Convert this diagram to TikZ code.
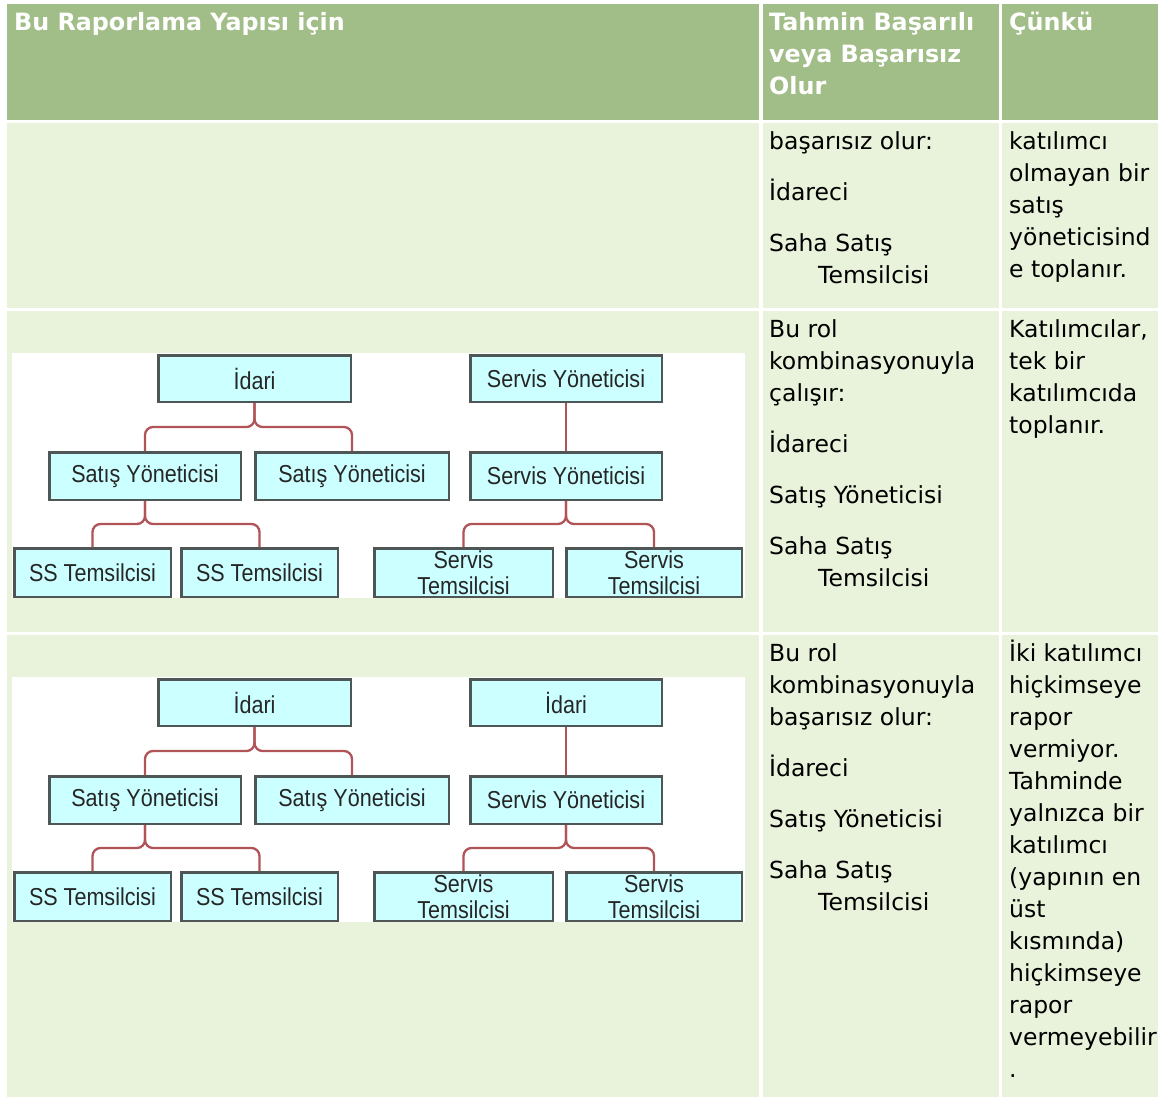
\documentclass[tikz,border=0pt]{standalone}
\usepackage{fontspec}
\setmainfont{DejaVu Sans}
\newfontfamily\chartfont[FakeStretch=0.88]{Liberation Sans}
\definecolor{headgreen}{HTML}{A2BE88}
\definecolor{cellgreen}{HTML}{E9F2DA}
\definecolor{boxfill}{HTML}{CCFFFF}
\definecolor{boxline}{HTML}{4F5656}
\definecolor{linkred}{HTML}{B05457}
\begin{document}
\begin{tikzpicture}[x=1pt, y=-1pt,
	headtext/.style={anchor=north west, inner sep=0, align=left, text=white, font=\fontsize{23.8}{32}\selectfont\bfseries},
	celltext/.style={anchor=north west, inner sep=0, align=left, font=\fontsize{23.5}{32}\selectfont},
	orgbox/.style={draw=boxline, line width=2.5pt, fill=boxfill, inner sep=0, align=center, text=black!85, font=\chartfont\fontsize{24.5}{26}\selectfont},
	link/.style={draw=linkred, line width=2.3pt, rounded corners=8pt}]
		\useasboundingbox (0, 0) rectangle (1158, 1099);
		\fill[white] (0, 0) rectangle (1158, 1099);
		\fill[headgreen] (7, 4) rectangle (759, 120);
		\fill[headgreen] (763, 4) rectangle (999, 120);
		\fill[headgreen] (1002, 4) rectangle (1158, 120);
		\fill[cellgreen] (7, 123) rectangle (759, 308);
		\fill[cellgreen] (763, 123) rectangle (999, 308);
		\fill[cellgreen] (1002, 123) rectangle (1158, 308);
		\fill[cellgreen] (7, 311) rectangle (759, 632);
		\fill[cellgreen] (763, 311) rectangle (999, 632);
		\fill[cellgreen] (1002, 311) rectangle (1158, 632);
		\fill[cellgreen] (7, 635) rectangle (759, 1097);
		\fill[cellgreen] (763, 635) rectangle (999, 1097);
		\fill[cellgreen] (1002, 635) rectangle (1158, 1097);
		\fill[white] (12, 353) rectangle (745, 598);
		\fill[white] (12, 677) rectangle (745, 922);

		\node[headtext] (hStruct) at (14, 7.6) {\strut Bu Raporlama Yapısı için};
		\node[headtext] (hResult) at (769, 7.6) {\strut Tahmin Başarılı\\veya Başarısız\\Olur};
		\node[headtext] (hWhy) at (1009, 7.6) {\strut Çünkü};

		\node[celltext] (resultOne) at (769, 126.6) {\strut başarısız olur:\\[19pt]İdareci\\[19pt]Saha Satış\\\hspace*{49pt}Temsilcisi};
		\node[celltext] (whyOne) at (1009, 126.6) {\strut katılımcı\\olmayan bir\\satış\\yöneticisind\\e toplanır.};
		\node[celltext] (resultTwo) at (769, 314.6) {\strut Bu rol\\kombinasyonuyla\\çalışır:\\[19pt]İdareci\\[19pt]Satış Yöneticisi\\[19pt]Saha Satış\\\hspace*{49pt}Temsilcisi};
		\node[celltext] (whyTwo) at (1009, 314.6) {\strut Katılımcılar,\\tek bir\\katılımcıda\\toplanır.};
		\node[celltext] (resultThree) at (769, 638.6) {\strut Bu rol\\kombinasyonuyla\\başarısız olur:\\[19pt]İdareci\\[19pt]Satış Yöneticisi\\[19pt]Saha Satış\\\hspace*{49pt}Temsilcisi};
		\node[celltext] (whyThree) at (1009, 638.6) {\strut İki katılımcı\\hiçkimseye\\rapor\\vermiyor.\\Tahminde\\yalnızca bir\\katılımcı\\(yapının en\\üst\\kısmında)\\hiçkimseye\\rapor\\vermeyebilir\\.};

		\node[orgbox, minimum width=192.5pt, minimum height=46.5pt] (idA) at (254.5, 378.5) {İdari};
		\node[orgbox, minimum width=191.5pt, minimum height=47.5pt] (salesA1) at (145, 476) {Satış Yöneticisi};
		\node[orgbox, minimum width=193.5pt, minimum height=47.5pt] (salesA2) at (352, 476) {Satış Yöneticisi};
		\node[orgbox, minimum width=156.5pt, minimum height=48.5pt] (repA1) at (92.5, 572.5) {SS Temsilcisi};
		\node[orgbox, minimum width=156.5pt, minimum height=48.5pt] (repA2) at (259.5, 572.5) {SS Temsilcisi};
		\node[orgbox, minimum width=191.5pt, minimum height=46.5pt] (servA1) at (566, 378.5) {Servis Yöneticisi};
		\node[orgbox, minimum width=191.5pt, minimum height=47.5pt] (servA2) at (566, 476) {Servis Yöneticisi};
		\node[orgbox, minimum width=178.5pt, minimum height=48.5pt] (techA1) at (463.5, 572.5) {Servis\\Temsilcisi};
		\node[orgbox, minimum width=175.5pt, minimum height=48.5pt] (techA2) at (654, 572.5) {Servis\\Temsilcisi};
		\draw[link] (idA.south) |- ([yshift=24pt]salesA1.north) -- (salesA1.north);
		\draw[link] (idA.south) |- ([yshift=24pt]salesA2.north) -- (salesA2.north);
		\draw[link] (salesA1.south) |- ([yshift=23pt]repA1.north) -- (repA1.north);
		\draw[link] (salesA1.south) |- ([yshift=23pt]repA2.north) -- (repA2.north);
		\draw[link] (servA1.south) -- (servA2.north);
		\draw[link] (servA2.south) |- ([yshift=23pt]techA1.north) -- (techA1.north);
		\draw[link] (servA2.south) |- ([yshift=23pt]techA2.north) -- (techA2.north);

		\node[orgbox, minimum width=192.5pt, minimum height=46.5pt] (idB) at (254.5, 702.5) {İdari};
		\node[orgbox, minimum width=191.5pt, minimum height=47.5pt] (salesB1) at (145, 800) {Satış Yöneticisi};
		\node[orgbox, minimum width=193.5pt, minimum height=47.5pt] (salesB2) at (352, 800) {Satış Yöneticisi};
		\node[orgbox, minimum width=156.5pt, minimum height=48.5pt] (repB1) at (92.5, 896.5) {SS Temsilcisi};
		\node[orgbox, minimum width=156.5pt, minimum height=48.5pt] (repB2) at (259.5, 896.5) {SS Temsilcisi};
		\node[orgbox, minimum width=191.5pt, minimum height=46.5pt] (servB1) at (566, 702.5) {İdari};
		\node[orgbox, minimum width=191.5pt, minimum height=47.5pt] (servB2) at (566, 800) {Servis Yöneticisi};
		\node[orgbox, minimum width=178.5pt, minimum height=48.5pt] (techB1) at (463.5, 896.5) {Servis\\Temsilcisi};
		\node[orgbox, minimum width=175.5pt, minimum height=48.5pt] (techB2) at (654, 896.5) {Servis\\Temsilcisi};
		\draw[link] (idB.south) |- ([yshift=24pt]salesB1.north) -- (salesB1.north);
		\draw[link] (idB.south) |- ([yshift=24pt]salesB2.north) -- (salesB2.north);
		\draw[link] (salesB1.south) |- ([yshift=23pt]repB1.north) -- (repB1.north);
		\draw[link] (salesB1.south) |- ([yshift=23pt]repB2.north) -- (repB2.north);
		\draw[link] (servB1.south) -- (servB2.north);
		\draw[link] (servB2.south) |- ([yshift=23pt]techB1.north) -- (techB1.north);
		\draw[link] (servB2.south) |- ([yshift=23pt]techB2.north) -- (techB2.north);
	\end{tikzpicture}
\end{document}
